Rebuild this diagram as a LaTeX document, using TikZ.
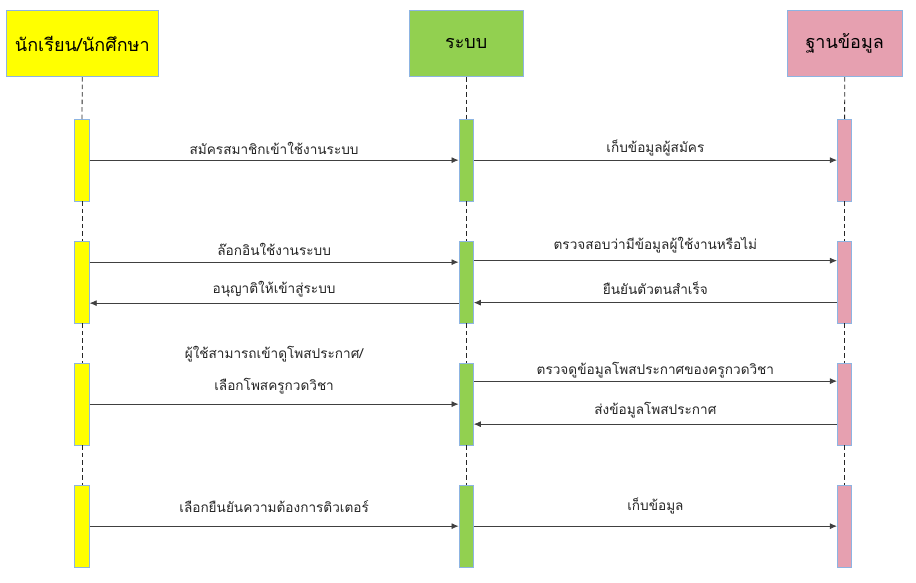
\documentclass[tikz,border=0pt]{standalone}
\usepackage{fontspec}
\newfontfamily\thaifont[Script=Thai]{Loma}
\usetikzlibrary{arrows.meta}
\definecolor{actoryellow}{RGB}{255,255,0}
\definecolor{systemgreen}{RGB}{146,208,80}
\definecolor{dbpink}{RGB}{230,160,176}
\definecolor{boxedge}{RGB}{141,180,226}
\definecolor{msgline}{RGB}{64,64,64}
\tikzset{
 header/.style={draw=boxedge,line width=.8pt,minimum height=66pt,inner sep=0,font=\thaifont\fontsize{18}{20}\selectfont},
 activebar/.style={draw=boxedge,line width=.8pt,minimum width=14.5pt,minimum height=81.5pt,inner sep=0,anchor=north},
 lifeline/.style={draw=black!85,line width=.8pt,dash pattern=on 4.5pt off 3pt},
 msg/.style={draw=msgline,line width=.8pt,-{Latex[length=7pt,width=6pt]}},
 msglabel/.style={midway,inner sep=0,text=black!85,font=\thaifont\fontsize{13.6}{32}\selectfont,align=center,yshift=12pt}
}

\begin{document}
\begin{tikzpicture}[x=1pt,y=-1pt]
\useasboundingbox[fill=white] (0,0) rectangle (916,583);
% heads
\node[header,fill=actoryellow,minimum width=152.7pt] (hstu) at (82.3,43.8) {นักเรียน/นักศึกษา};
\node[header,fill=systemgreen,minimum width=114.3pt] (hsys) at (466.2,43.8) {ระบบ};
\node[header,fill=dbpink,minimum width=114.7pt] (hdb) at (844.7,43.8) {ฐานข้อมูล};
% activation bars
\foreach \n/\y in {1/119,2/241,3/363,4/485}{
 \node[activebar,fill=actoryellow] (stu\n) at (82,\y) {};
 \node[activebar,fill=systemgreen] (sys\n) at (466.2,\y) {};
 \node[activebar,fill=dbpink] (db\n) at (844.6,\y) {};
}
% lifelines
\foreach \who in {stu,sys,db}{
 \draw[lifeline] (h\who.south) -- (\who1.north);
 \draw[lifeline] (\who1.south) -- (\who2.north);
 \draw[lifeline] (\who2.south) -- (\who3.north);
 \draw[lifeline] (\who3.south) -- (\who4.north);
}
% messages
\draw[msg] (stu1.east) -- (sys1.west) node[msglabel] {สมัครสมาชิกเข้าใช้งานระบบ};
\draw[msg] (sys1.east) -- (db1.west) node[msglabel] {เก็บข้อมูลผู้สมัคร};
\draw[msg] ([yshift=20pt]stu2.east) -- ([yshift=20pt]sys2.west) node[msglabel,yshift=1pt] {ล๊อกอินใช้งานระบบ};
\draw[msg] ([yshift=-21pt]sys2.west) -- ([yshift=-21pt]stu2.east) node[msglabel,yshift=2pt] {อนุญาติให้เข้าสู่ระบบ};
\draw[msg] ([yshift=21.5pt]sys2.east) -- ([yshift=21.5pt]db2.west) node[msglabel,yshift=3pt] {ตรวจสอบว่ามีข้อมูลผู้ใช้งานหรือไม่};
\draw[msg] ([yshift=-20.5pt]db2.west) -- ([yshift=-20.5pt]sys2.east) node[msglabel,yshift=2pt] {ยืนยันตัวตนสำเร็จ};
\draw[msg] (stu3.east) -- (sys3.west) node[msglabel,yshift=22pt] {ผู้ใช้สามารถเข้าดูโพสประกาศ/\\เลือกโพสครูกวดวิชา};
\draw[msg] ([yshift=23pt]sys3.east) -- ([yshift=23pt]db3.west) node[msglabel,yshift=-1pt] {ตรวจดูข้อมูลโพสประกาศของครูกวดวิชา};
\draw[msg] ([yshift=-20pt]db3.west) -- ([yshift=-20pt]sys3.east) node[msglabel,yshift=2pt] {ส่งข้อมูลโพสประกาศ};
\draw[msg] (stu4.east) -- (sys4.west) node[msglabel,yshift=8pt] {เลือกยืนยันความต้องการติวเตอร์};
\draw[msg] (sys4.east) -- (db4.west) node[msglabel,yshift=8pt] {เก็บข้อมูล};
\end{tikzpicture}
\end{document}
